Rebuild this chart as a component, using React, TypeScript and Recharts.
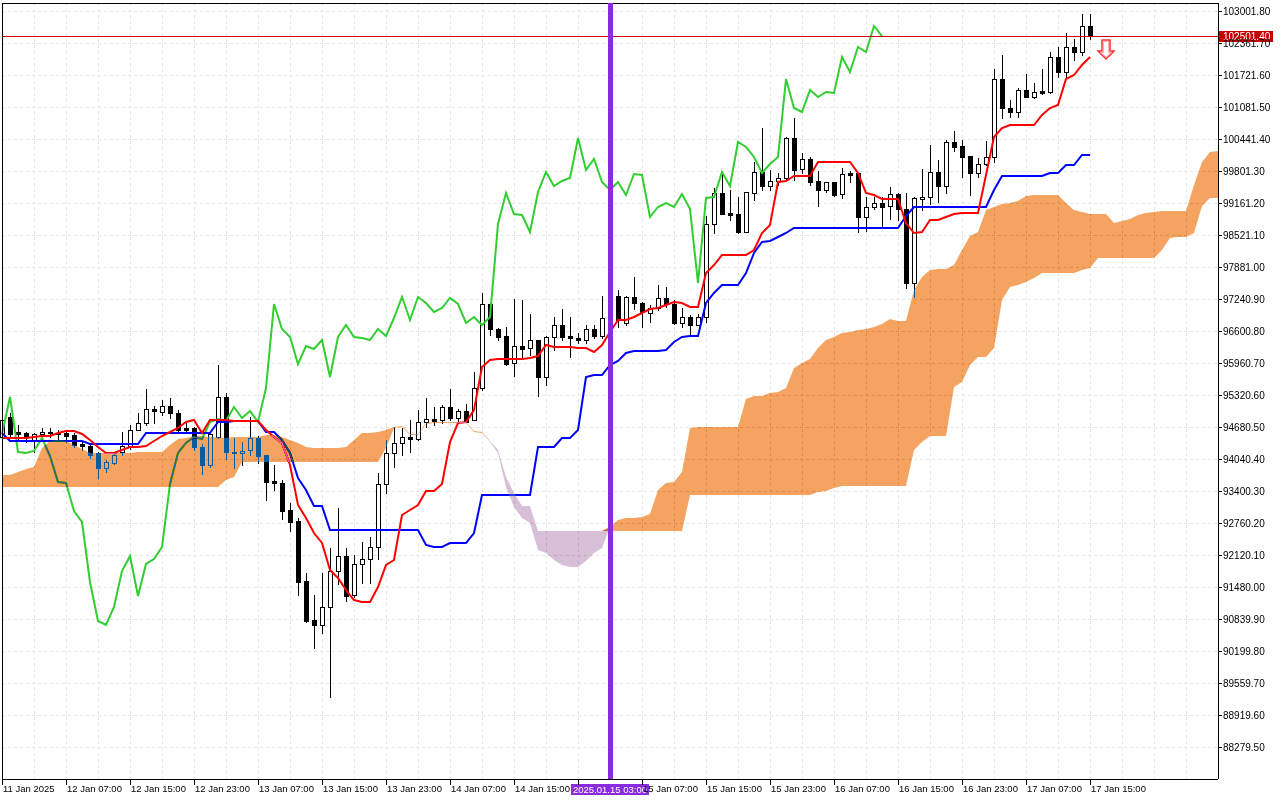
import {
  ComposedChart,
  Bar,
  Line,
  Area,
  XAxis,
  YAxis,
  CartesianGrid,
  ReferenceLine,
  ReferenceDot,
} from 'recharts'

// BTC H1, one bar per hour starting 11 Jan 23:00
const opens = [
  94482, 94882, 94582, 94562, 94422, 94542, 94582, 94562, 94562, 94522,
  94342, 94302, 94162, 93862, 93962, 94182, 94282, 94622, 94762, 95042,
  94982, 95102, 94962, 94662, 94662, 94282, 93922, 94482, 95282, 94182,
  94162, 94222, 94462, 94122, 93602, 93562, 93022, 92802, 91602, 90822,
  90722, 91082, 91802, 92102, 91322, 91942, 92042, 92282, 93542, 94162,
  94362, 94482, 94442, 94782, 94842, 94822, 95082, 94862, 95002, 94822,
  95462, 97142, 96642, 96502, 95962, 96302, 96262, 96422, 95682, 96482,
  96722, 96502, 96462, 96422, 96642, 96502, 96862, 97302, 96762, 97282,
  97162, 96962, 97062, 97262, 97142, 96762, 96882, 96722, 96882, 98742,
  99362, 98962, 98942, 98582, 99362, 99782, 99502, 99602, 99662, 100462,
  99842, 100042, 99602, 99422, 99582, 99342, 99762, 99762, 98882, 99082,
  99162, 99102, 99342, 99042, 97562, 99242, 99282, 99782, 99502, 100382,
  100302, 100102, 99762, 99942, 100082, 101642, 101062, 100982, 101422, 101282,
  101402, 101382, 102082, 101782, 102282, 102182, 102702,
]

const highs = [
  94882, 94962, 94722, 94582, 94562, 94662, 94662, 94622, 94622, 94562,
  94402, 94362, 94182, 94022, 94182, 94582, 94722, 94962, 95442, 95102,
  95222, 95262, 95022, 94762, 94682, 94342, 94562, 95922, 95362, 94462,
  94382, 94882, 94502, 94122, 93922, 93622, 93162, 92862, 91762, 91322,
  91762, 92262, 93062, 92262, 92122, 92382, 92482, 93762, 94422, 94682,
  94662, 94822, 95022, 95262, 95082, 95122, 95442, 95042, 95142, 95782,
  97362, 97162, 96662, 96682, 97242, 97222, 96942, 96422, 96502, 96882,
  97042, 96882, 96562, 96722, 96722, 97302, 97422, 97422, 97302, 97682,
  97182, 97122, 97522, 97482, 97222, 97062, 96922, 96942, 98902, 99462,
  99762, 99422, 99282, 99382, 99982, 100662, 99822, 99762, 100482, 100862,
  100162, 100082, 99802, 99582, 99582, 99862, 99802, 99762, 99282, 99282,
  99282, 99482, 99362, 99362, 99282, 99842, 100322, 100022, 100422, 100602,
  100422, 100102, 100062, 100402, 101842, 102122, 101222, 101462, 101742, 101562,
  101842, 102182, 102282, 102562, 102442, 102942, 102942,
]

const lows = [
  94422, 94482, 94422, 94382, 94182, 94422, 94482, 94422, 94382, 94282,
  94222, 94062, 93662, 93782, 93942, 94122, 94242, 94622, 94722, 94762,
  94922, 94862, 94562, 94562, 94222, 93742, 93882, 94462, 94042, 93862,
  93922, 94122, 93962, 93222, 93422, 92842, 92602, 91322, 90782, 90262,
  90562, 89282, 91542, 91202, 91282, 91562, 91562, 92042, 93362, 93882,
  94122, 94182, 94422, 94682, 94722, 94762, 94822, 94782, 94782, 94822,
  95422, 96522, 96422, 95922, 95702, 96042, 96122, 95302, 95522, 96222,
  96422, 96082, 96362, 96362, 96462, 96462, 96782, 96682, 96722, 97042,
  96682, 96782, 97022, 97082, 96742, 96682, 96522, 96722, 96782, 98562,
  98942, 98822, 98562, 98582, 99222, 99422, 99422, 99522, 99642, 99622,
  99762, 99522, 99102, 99382, 99302, 99262, 99582, 98582, 98602, 99042,
  98682, 98842, 98822, 97462, 97282, 99022, 99142, 99182, 99362, 100202,
  99682, 99322, 99682, 99922, 99982, 100862, 100882, 100882, 101282, 101262,
  101342, 101362, 101682, 101682, 102022, 102122, 102442,
]

const closes = [
  94822, 94542, 94542, 94482, 94542, 94582, 94562, 94542, 94502, 94322,
  94302, 94122, 93862, 93982, 94122, 94302, 94622, 94762, 95042, 95002,
  95102, 94962, 94622, 94622, 94282, 93922, 94542, 95282, 94182, 94162,
  94202, 94462, 94102, 93582, 93562, 93002, 92782, 91582, 90802, 90722,
  91082, 91802, 92102, 91302, 91942, 92042, 92282, 93542, 94162, 94362,
  94482, 94442, 94782, 94842, 94802, 95082, 94862, 95002, 94782, 95462,
  97142, 96642, 96482, 95942, 96302, 96242, 96422, 95682, 96482, 96722,
  96482, 96462, 96422, 96642, 96502, 96862, 97282, 96822, 97282, 97162,
  96982, 97062, 97262, 97142, 96762, 96882, 96722, 96882, 98742, 99362,
  98942, 98922, 98582, 99382, 99782, 99502, 99602, 99662, 100462, 99822,
  100042, 99582, 99422, 99582, 99322, 99742, 99722, 98882, 99082, 99162,
  99082, 99342, 99042, 97562, 99262, 99282, 99782, 99502, 100382, 100282,
  100082, 99762, 99942, 100082, 101642, 101062, 100982, 101422, 101282, 101382,
  101362, 102082, 101782, 102282, 102182, 102702, 102501.4,
]

// Tenkan-sen (9) and Kijun-sen (26)
const tenkan = [
  94462, 94462, 94462, 94462, 94482, 94502, 94502, 94562, 94602, 94602,
  94542, 94422, 94282, 94162, 94162, 94222, 94282, 94282, 94302, 94402,
  94502, 94582, 94662, 94782, 94822, 94562, 94822, 94822, 94822, 94802,
  94802, 94802, 94802, 94622, 94482, 94362, 93922, 93122, 92862, 92562,
  92362, 91822, 91662, 91422, 91222, 91182, 91182, 91482, 91922, 92022,
  92922, 93022, 93122, 93402, 93402, 93542, 94382, 94762, 94782, 95022,
  95882, 96022, 96042, 96042, 96042, 96042, 96062, 96102, 96322, 96282,
  96282, 96282, 96262, 96262, 96182, 96322, 96582, 96822, 96822, 96882,
  96962, 97042, 97062, 97122, 97182, 97162, 97082, 97082, 97762, 97922,
  98122, 98122, 98122, 98122, 98222, 98562, 98722, 99582, 99602, 99702,
  99702, 99702, 99982, 99982, 99982, 99982, 99982, 99762, 99362, 99322,
  99242, 99242, 99242, 98762, 98562, 98582, 98822, 98822, 98882, 98942,
  98962, 98962, 98962, 99722, 100482, 100662, 100722, 100722, 100722, 100722,
  100922, 101062, 101122, 101642, 101722, 101922, 102082,
]

const kijun = [
  94562, 94402, 94402, 94402, 94402, 94402, 94402, 94402, 94402, 94402,
  94402, 94342, 94342, 94342, 94342, 94342, 94342, 94342, 94562, 94562,
  94562, 94562, 94562, 94562, 94562, 94562, 94562, 94782, 94782, 94802,
  94802, 94802, 94802, 94582, 94582, 94422, 94162, 93662, 93422, 93102,
  93102, 92622, 92622, 92622, 92622, 92622, 92622, 92622, 92622, 92622,
  92622, 92622, 92622, 92322, 92282, 92282, 92362, 92362, 92362, 92562,
  93322, 93322, 93322, 93322, 93322, 93322, 93322, 94282, 94282, 94282,
  94462, 94462, 94622, 95682, 95722, 95722, 95922, 96002, 96162, 96202,
  96202, 96202, 96202, 96222, 96382, 96482, 96502, 96502, 97162, 97362,
  97522, 97522, 97522, 97762, 98162, 98382, 98402, 98482, 98562, 98662,
  98662, 98662, 98662, 98662, 98662, 98662, 98662, 98662, 98662, 98662,
  98662, 98662, 98662, 98902, 99082, 99082, 99082, 99082, 99082, 99082,
  99082, 99082, 99082, 99082, 99422, 99702, 99702, 99702, 99702, 99702,
  99702, 99762, 99762, 99922, 99922, 100122, 100122,
]

// Senkou spans, already shifted 26 bars ahead (153 bars)
const senkouA = [
  93722, 93722, 93782, 93842, 93882, 94262, 94402, 94422, 94402, 94322,
  94242, 94162, 94162, 94162, 94162, 94162, 94162, 94182, 94182, 94182,
  94182, 94322, 94442, 94462, 94502, 94502, 94482, 94482, 94462, 94482,
  94482, 94482, 94482, 94522, 94522, 94482, 94422, 94362, 94282, 94262,
  94262, 94262, 94262, 94282, 94422, 94562, 94562, 94582, 94622, 94682,
  94702, 94542, 94542, 94762, 94782, 94782, 94782, 94782, 94782, 94602,
  94582, 94382, 94162, 93482, 93082, 92862, 92762, 92222, 92162, 92022,
  91922, 91882, 91882, 92002, 92162, 92262, 92682, 92822, 92862, 92862,
  92882, 92942, 93422, 93562, 93582, 93782, 94662, 94682, 94682, 94682,
  94682, 94682, 94682, 95242, 95302, 95302, 95362, 95382, 95462, 95862,
  95962, 96042, 96262, 96422, 96482, 96562, 96582, 96622, 96642, 96682,
  96742, 96842, 96802, 96802, 97422, 97682, 97822, 97842, 97842, 97922,
  98222, 98502, 98582, 99022, 99082, 99142, 99162, 99202, 99302, 99322,
  99322, 99322, 99322, 99162, 99022, 98982, 98942, 98942, 98942, 98762,
  98802, 98842, 98922, 98962, 98982, 99002, 99002, 99002, 99002, 99522,
  99982, 100182, 100202,
]

const senkouB = [
  93482, 93482, 93482, 93482, 93482, 93482, 93482, 93482, 93482, 93482,
  93482, 93482, 93482, 93482, 93482, 93482, 93482, 93482, 93482, 93482,
  93482, 93482, 93482, 93482, 93482, 93482, 93482, 93482, 93622, 93682,
  93982, 93982, 93982, 93982, 93982, 93982, 93982, 93982, 93982, 93982,
  93982, 93982, 93982, 93982, 93982, 93982, 93982, 93982, 94262, 94662,
  94682, 94522, 94522, 94742, 94762, 94762, 94762, 94762, 94762, 94582,
  94562, 94402, 94222, 93682, 93362, 93102, 93102, 92602, 92602, 92602,
  92602, 92602, 92602, 92602, 92602, 92602, 92602, 92602, 92602, 92602,
  92602, 92602, 92602, 92602, 92602, 92602, 93322, 93322, 93322, 93322,
  93322, 93322, 93322, 93322, 93322, 93322, 93322, 93322, 93322, 93322,
  93322, 93322, 93382, 93402, 93462, 93502, 93502, 93502, 93502, 93502,
  93502, 93502, 93502, 93502, 94222, 94382, 94502, 94502, 94502, 95482,
  95582, 95922, 96082, 96082, 96262, 97222, 97482, 97522, 97582, 97662,
  97762, 97762, 97762, 97762, 97762, 97822, 97862, 98062, 98062, 98062,
  98062, 98062, 98062, 98062, 98062, 98222, 98462, 98482, 98482, 98562,
  99102, 99262, 99262,
]

const priceTicks = [
  103001.8, 102361.7, 101721.6, 101081.5, 100441.4, 99801.3, 99161.2, 98521.1,
  97881.0, 97240.9, 96600.8, 95960.7, 95320.6, 94680.5, 94040.4, 93400.3,
  92760.2, 92120.1, 91480.0, 90839.9, 90199.8, 89559.7, 88919.6, 88279.5,
]

// one label every 8 bars; bar 72 is hidden under the marker label
const timeLabels = [
  '11 Jan 2025', '12 Jan 07:00', '12 Jan 15:00', '12 Jan 23:00', '13 Jan 07:00',
  '13 Jan 15:00', '13 Jan 23:00', '14 Jan 07:00', '14 Jan 15:00', '',
  '15 Jan 07:00', '15 Jan 15:00', '15 Jan 23:00', '16 Jan 07:00', '16 Jan 15:00',
  '16 Jan 23:00', '17 Jan 07:00', '17 Jan 15:00',
]

const chikouShift = 26
const markerBar = 76
const markerText = '2025.01.15 03:00'
const bidPrice = 102501.4
const arrowBar = 138
const arrowPrice = 102242

const font = 'Liberation Sans, Arial, sans-serif'

const rows = senkouA.map((a, i) => ({
  i,
  open: opens[i],
  high: highs[i],
  low: lows[i],
  close: closes[i],
  tenkan: tenkan[i],
  kijun: kijun[i],
  chikou: closes[i + chikouShift],
  spanA: a,
  spanB: senkouB[i],
}))

const gridTicks = rows.filter((r) => r.i % 4 === 0).map((r) => r.i)

function Candle(props: any) {
  const { x, y, width, height, payload } = props
  if (!payload || payload.open == null || !Number.isFinite(y) || !Number.isFinite(height)) return <g />
  const { open, close, high, low } = payload
  const span = high - low
  const toY = (v: number) => (span > 0 ? y + ((high - v) / span) * height : y)
  const cx = Math.round(x + width / 2)
  const top = Math.round(toY(Math.max(open, close)))
  const bottom = Math.round(toY(Math.min(open, close)))
  const bull = close > open
  let body
  if (bottom - top < 1) {
    body = <line x1={cx - 2} x2={cx + 3} y1={top + 0.5} y2={top + 0.5} stroke="#000" strokeWidth={1} />
  } else if (bull) {
    body = <rect x={cx - 1.5} y={top + 0.5} width={4} height={bottom - top} fill="#fff" stroke="#000" strokeWidth={1} />
  } else {
    body = <rect x={cx - 2} y={top} width={5} height={bottom - top + 1} fill="#000" />
  }
  return (
    <g>
      <line x1={cx + 0.5} x2={cx + 0.5} y1={Math.round(y)} y2={Math.round(y + height) + 1} stroke="#000" strokeWidth={1} />
      {body}
    </g>
  )
}

function TimeTick({ x, y, payload }: any) {
  const idx = payload.value as number
  const label = timeLabels[idx / 8]
  if (idx % 8 !== 0 || label == null) return <g />
  return (
    <g>
      <line x1={x + 0.5} x2={x + 0.5} y1={y} y2={y + 6} stroke="#000" strokeWidth={1} />
      {label ? (
        <text x={x + 1} y={y + 13} fontSize={9.5} fontFamily={font} fill="#000">
          {label}
        </text>
      ) : null}
    </g>
  )
}

function BidTag({ viewBox }: any) {
  if (!viewBox) return null
  const left = viewBox.x + viewBox.width + 1
  return (
    <g>
      <rect x={left} y={Math.round(viewBox.y) - 5} width={54} height={11} fill="#C80000" />
      <text x={left + 4} y={Math.round(viewBox.y) + 0.5} dy="0.355em" fontSize={10} fontFamily={font} fill="#fff">
        {bidPrice.toFixed(2)}
      </text>
    </g>
  )
}

function MarkerTag({ viewBox }: any) {
  if (!viewBox) return null
  const bottom = viewBox.y + viewBox.height
  return (
    <g>
      <rect x={viewBox.x - 39} y={bottom + 5} width={78} height={11} fill="#8A2BE2" />
      <text x={viewBox.x} y={bottom + 10.5} dy="0.355em" textAnchor="middle" fontSize={9.5} fontFamily={font} fill="#fff">
        {markerText}
      </text>
    </g>
  )
}

function DownArrow({ cx, cy }: any) {
  const pts = [
    [cx - 4, cy - 9], [cx + 4, cy - 9], [cx + 4, cy + 2], [cx + 8, cy + 2],
    [cx, cy + 10], [cx - 8, cy + 2], [cx - 4, cy + 2],
  ]
  const inner = [
    [cx - 2.5, cy - 7.5], [cx + 2.5, cy - 7.5], [cx + 2.5, cy + 3.5], [cx + 5, cy + 3.5],
    [cx, cy + 8], [cx - 5, cy + 3.5], [cx - 2.5, cy + 3.5],
  ]
  return (
    <g>
      <polygon points={pts.map((p) => p.join(',')).join(' ')} fill="#fff" stroke="#FF3030" strokeWidth={1.5} />
      <polygon points={inner.map((p) => p.join(',')).join(' ')} fill="#fff" stroke="#FFB0B8" strokeWidth={1} />
    </g>
  )
}

export default function App() {
  return (
    <div style={{ width: 1280, height: 800, background: '#fff' }}>
      <style>{`
        body { margin: 0; background: #fff; }
        .cloud .recharts-area-area { mix-blend-mode: difference; }
        .recharts-reference-line line, .recharts-cartesian-grid line, .recharts-cartesian-axis-line,
        .recharts-cartesian-axis-tick-line { shape-rendering: crispEdges; }
      `}</style>
      <ComposedChart width={1280} height={800} data={rows} margin={{ top: 3, right: 0, bottom: 0, left: 2 }}>
        <CartesianGrid stroke="#E6E6E6" strokeDasharray="3 3" fill="#fff" fillOpacity={1} />
        <XAxis
          dataKey="i"
          type="number"
          domain={[0, 152]}
          ticks={gridTicks}
          interval={0}
          height={21}
          tickSize={0}
          tickMargin={0}
          tickLine={false}
          tick={<TimeTick />}
          axisLine={{ stroke: '#000' }}
        />
        <YAxis
          orientation="right"
          type="number"
          domain={[87642, 103162]}
          ticks={priceTicks}
          interval={0}
          width={62}
          tickSize={4}
          tickMargin={1}
          tickLine={{ stroke: '#000' }}
          axisLine={{ stroke: '#000' }}
          tick={{ fontSize: 10, fill: '#000', fontFamily: font }}
          tickFormatter={(v: number) => v.toFixed(2)}
        />
        <Bar
          dataKey={(d: any) => (d.open == null ? null : [d.low, d.high])}
          barSize={5}
          shape={<Candle />}
          isAnimationActive={false}
        />
        <Line dataKey="chikou" stroke="#32CD32" strokeWidth={2} dot={false} activeDot={false} type="linear" isAnimationActive={false} />
        <Line dataKey="kijun" stroke="#0000FF" strokeWidth={2} dot={false} activeDot={false} type="linear" isAnimationActive={false} />
        <Line dataKey="tenkan" stroke="#FF0000" strokeWidth={2} dot={false} activeDot={false} type="linear" isAnimationActive={false} />
        <Area
          className="cloud"
          dataKey={(d: any) => [d.spanB, Math.max(d.spanA, d.spanB)]}
          fill="#0B5B9F"
          fillOpacity={1}
          stroke="none"
          type="linear"
          activeDot={false}
          isAnimationActive={false}
          zIndex={450}
        />
        <Area
          className="cloud"
          dataKey={(d: any) => [d.spanA, Math.max(d.spanA, d.spanB)]}
          fill="#274027"
          fillOpacity={1}
          stroke="none"
          type="linear"
          activeDot={false}
          isAnimationActive={false}
          zIndex={450}
        />
        <ReferenceLine x={0} stroke="#000" strokeWidth={1} zIndex={600} />
        <ReferenceLine y={103162} stroke="#000" strokeWidth={1} zIndex={600} />
        <ReferenceLine y={bidPrice} stroke="#CC0000" strokeWidth={1} label={<BidTag />} zIndex={600} />
        <ReferenceLine x={markerBar} stroke="#8A2BE2" strokeWidth={5} label={<MarkerTag />} zIndex={600} />
        <ReferenceDot x={arrowBar} y={arrowPrice} r={0} shape={<DownArrow />} zIndex={600} />
      </ComposedChart>
    </div>
  )
}
